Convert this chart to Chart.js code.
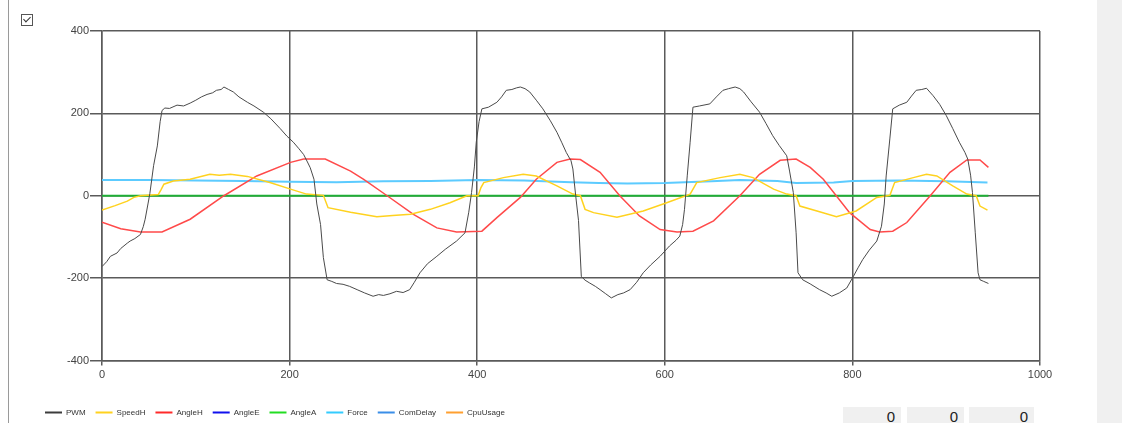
<!DOCTYPE html>
<html lang="en">
<head>
    <meta charset="UTF-8">
    <title>Motor log</title>
    <script src="https://cdn.jsdelivr.net/npm/chart.js"></script>
    <style>
        body {
            margin: 0;
            width: 1122px;
            height: 423px;
            overflow: hidden;
            background: #fff;
            font-family: "Liberation Sans", Arial, sans-serif;
            position: relative;
        }

        #chartBox {
            position: absolute;
            left: 0;
            top: 0;
        }

        .leftLine {
            position: absolute;
            left: 8px;
            top: 0;
            width: 1px;
            height: 423px;
            background: #9a9a9a;
        }

        .check {
            position: absolute;
            left: 21px;
            top: 14px;
            width: 10px;
            height: 10px;
            border: 1px solid #555;
            background: #fff;
        }

        .check span {
            position: absolute;
            left: 3px;
            top: 0px;
            width: 3px;
            height: 6px;
            border-right: 1.5px solid #333;
            border-bottom: 1.5px solid #333;
            transform: rotate(45deg);
        }

        .sidePanel {
            position: absolute;
            left: 1097px;
            top: 0;
            width: 25px;
            height: 423px;
            background: #f0f0f0;
        }

        .numBox {
            position: absolute;
            top: 407px;
            height: 20px;
            padding-top: 1px;
            background: #f0f0f0;
            color: #222;
            font-size: 15px;
            line-height: 18px;
            text-align: right;
            box-sizing: border-box;
            padding-right: 6px;
        }
    </style>
</head>
<body>

    <div class="leftLine"></div>
    <div class="check"><span></span></div>
    <canvas id="chartBox" width="1096" height="430"></canvas>
    <div class="sidePanel"></div>

    <div class="numBox" style="left:843px; width:58px;">0</div>
    <div class="numBox" style="left:907px; width:57px;">0</div>
    <div class="numBox" style="left:969px; width:65px;">0</div>

    <script>
        var seriesNames = ['PWM', 'SpeedH', 'AngleH', 'AngleE', 'AngleA', 'Force', 'ComDelay', 'CpuUsage'];

        var pwmX = [0, 5, 9, 16, 20, 27, 30, 35, 41, 44, 46, 49, 51, 55, 59, 62, 64, 67, 72, 80, 87, 94, 100, 106, 112, 118, 122, 127, 130, 135, 140, 146, 155, 162, 172, 180, 190, 197, 204, 210, 215, 219, 222, 226, 229, 233, 236, 240, 245, 250, 257, 264, 272, 280, 289, 295, 300, 307, 314, 321, 328, 333, 339, 347, 357, 366, 378, 387, 391, 394, 397, 399, 402, 405, 412, 421, 426, 431, 437, 442, 446, 451, 456, 463, 470, 478, 485, 490, 495, 500, 502, 505, 508, 511, 515, 520, 526, 531, 537, 543, 550, 556, 563, 570, 577, 585, 595, 605, 612, 616, 619, 621, 624, 627, 630, 637, 648, 655, 662, 668, 675, 680, 684, 692, 701, 708, 715, 722, 730, 733, 737, 740, 742, 747, 755, 765, 772, 778, 786, 794, 801, 806, 811, 818, 826, 831, 834, 836, 840, 843, 850, 858, 863, 868, 874, 879, 886, 893, 900, 907, 914, 920, 923, 926, 928, 931, 934, 936, 940, 945];
        var pwmY = [-172, -160, -147, -139, -128, -115, -110, -104, -94, -75, -57, -20, 5, 73, 121, 180, 207, 213, 212, 220, 218, 225, 232, 240, 246, 250, 256, 258, 264, 258, 252, 240, 227, 218, 203, 187, 163, 145, 130, 114, 100, 82, 68, 40, -20, -70, -150, -204, -208, -213, -215, -220, -228, -236, -244, -240, -242, -238, -232, -235, -228, -210, -187, -165, -147, -130, -110, -90, -40, 8, 70, 130, 180, 211, 215, 227, 240, 256, 258, 262, 264, 260, 252, 232, 211, 182, 154, 130, 105, 85, 65, 0, -60, -196, -205, -212, -220, -228, -238, -248, -240, -236, -228, -210, -187, -168, -147, -122, -108, -98, -70, -33, 50, 130, 215, 218, 223, 240, 256, 260, 264, 260, 252, 228, 203, 175, 146, 122, 97, 60, 8, -90, -187, -204, -214, -228, -236, -244, -236, -224, -196, -175, -155, -132, -110, -74, -20, 48, 140, 211, 220, 227, 242, 256, 258, 261, 243, 222, 195, 163, 130, 105, 89, 50, 8, -90, -187, -204, -208, -213];

        var speedX = [0, 14, 27, 34, 41, 60, 63, 66, 76, 94, 115, 125, 137, 155, 179, 201, 218, 236, 241, 265, 293, 310, 329, 350, 371, 389, 401, 404, 407, 428, 449, 463, 485, 502, 510, 515, 524, 549, 577, 602, 627, 631, 634, 659, 680, 694, 716, 730, 740, 744, 765, 783, 804, 826, 840, 845, 865, 879, 890, 907, 922, 932, 936, 944];
        var speedY = [-35, -24, -13, -4, 0, 3, 15, 28, 36, 40, 52, 50, 52, 47, 32, 16, 4, 1, -29, -40, -51, -48, -45, -33, -17, 0, 0, 20, 32, 44, 52, 48, 24, 4, 0, -33, -41, -52, -37, -17, 4, 20, 32, 44, 52, 44, 16, 4, 0, -25, -39, -51, -37, -4, 1, 32, 44, 52, 48, 24, 4, 0, -25, -35];

        var angleHX = [0, 20, 41, 64, 94, 130, 165, 201, 215, 238, 265, 279, 304, 332, 357, 378, 405, 421, 446, 463, 485, 499, 510, 531, 552, 573, 595, 613, 630, 652, 680, 701, 723, 740, 755, 769, 797, 819, 829, 843, 858, 883, 904, 922, 936, 945];
        var angleHY = [-64, -80, -88, -88, -57, 0, 48, 81, 89, 89, 60, 40, 0, -45, -78, -88, -86, -53, -4, 40, 81, 89, 88, 57, 0, -49, -82, -88, -86, -61, 0, 52, 86, 89, 69, 40, -41, -82, -88, -86, -65, 0, 57, 87, 87, 69];

        var forceX = [0, 50, 100, 150, 200, 250, 300, 350, 400, 450, 500, 530, 560, 600, 650, 680, 720, 740, 780, 800, 850, 900, 944];
        var forceY = [38, 38, 37, 36, 34, 33, 35, 36, 38, 37, 33, 31, 30, 31, 35, 38, 36, 31, 32, 36, 37, 35, 32];

        // AngleA sits on zero the whole run; AngleE is not visible in the plot
        var angleAX = [0, 945];
        var angleAY = [0, 0];

        var lineColors = ['#4a4a4a', '#ffd21f', '#ff4a4a', '#1a1aff', '#1fae36', '#5ccbff', '#3a8ee8', '#ffa030'];
        var legendColors = ['#3c3c3c', '#ffd21f', '#ff2a2a', '#1010ee', '#22dd22', '#33ccff', '#3a8ee8', '#ffa030'];

        function toPoints(xs, ys) {
            return xs.map(function (x, i) { return { x: x, y: ys[i] }; });
        }

        var seriesData = [
            toPoints(pwmX, pwmY),
            toPoints(speedX, speedY),
            toPoints(angleHX, angleHY),
            [],
            toPoints(angleAX, angleAY),
            toPoints(forceX, forceY),
            [],
            []
        ];
        var widths = [1, 1.5, 1.5, 2, 2, 2, 1, 1];

        var datasets = seriesNames.map(function (name, i) {
            return {
                label: name,
                data: seriesData[i],
                borderColor: lineColors[i],
                backgroundColor: lineColors[i],
                borderWidth: widths[i],
                pointRadius: 0,
                tension: 0,
                fill: false
            };
        });

        var gridColor = '#5a5a5a';
        var tickFont = { size: 11, family: 'Liberation Sans' };

        new Chart(document.getElementById('chartBox'), {
            type: 'line',
            data: { datasets: datasets },
            options: {
                responsive: false,
                animation: false,
                layout: { padding: { left: 35, right: 56, top: 31, bottom: 3.5 } },
                plugins: {
                    tooltip: { enabled: false },
                    legend: {
                        position: 'bottom',
                        align: 'start',
                        labels: {
                            usePointStyle: true,
                            pointStyle: 'line',
                            pointStyleWidth: 17,
                            padding: 10,
                            color: '#333',
                            font: { size: 8, family: 'Liberation Sans' },
                            generateLabels: function (chart) {
                                var items = Chart.defaults.plugins.legend.labels.generateLabels(chart);
                                items.forEach(function (it) {
                                    it.strokeStyle = legendColors[it.datasetIndex];
                                    it.fillStyle = legendColors[it.datasetIndex];
                                    it.lineWidth = 2;
                                });
                                return items;
                            }
                        }
                    }
                },
                scales: {
                    x: {
                        type: 'linear',
                        min: 0,
                        max: 1000,
                        afterFit: function (s) { s.height = 38; },
                        ticks: { stepSize: 200, padding: 3, color: '#444', font: tickFont, callback: function (v) { return String(v); } },
                        grid: { color: gridColor, lineWidth: 1.5, tickLength: 5 },
                        border: { color: gridColor, width: 1.5 }
                    },
                    y: {
                        min: -400,
                        max: 400,
                        afterFit: function (s) { s.width = 67; },
                        ticks: { stepSize: 200, padding: 1, color: '#444', font: tickFont, callback: function (v) { return String(v); } },
                        grid: { color: gridColor, lineWidth: 1.5, tickLength: 12 },
                        border: { color: gridColor, width: 1.5 }
                    }
                }
            }
        });
    </script>

</body>
</html>
